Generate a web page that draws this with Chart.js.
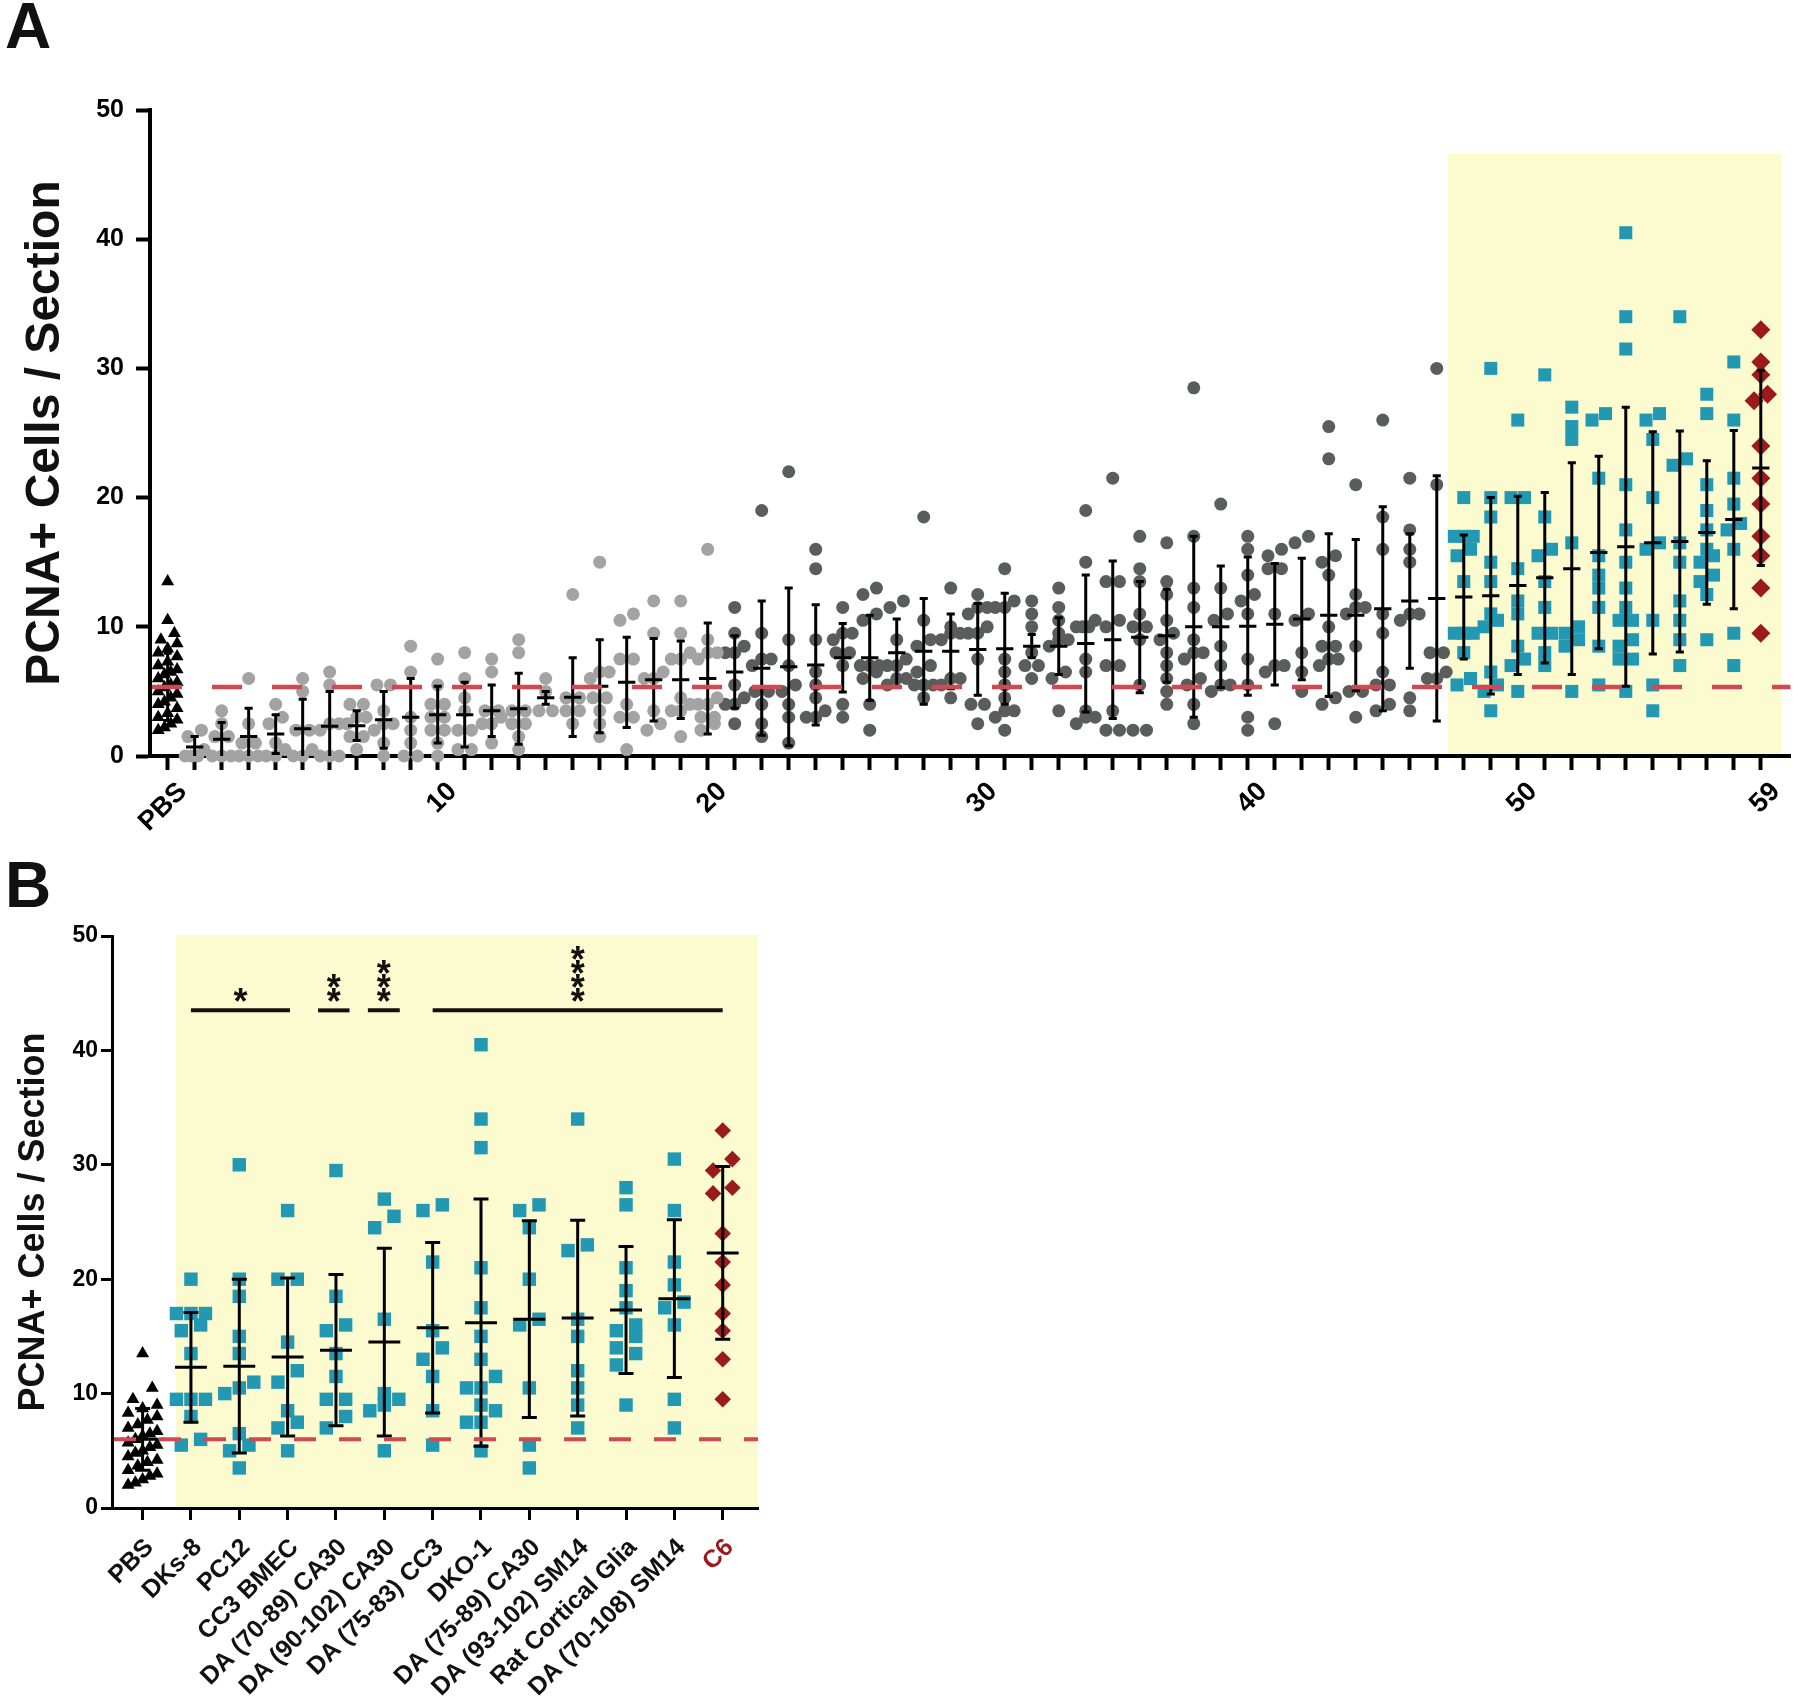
<!DOCTYPE html>
<html>
<head>
<meta charset="utf-8">
<script src="https://cdn.jsdelivr.net/npm/chart.js@4.4.1/dist/chart.umd.min.js"></script>
<style>
  html, body { margin: 0; padding: 0; background: #fff; }
  body { width: 1800px; height: 1704px; position: relative; overflow: hidden; font-family: "Liberation Sans", Arial, sans-serif; }
  .panel-letter { position: absolute; font-weight: bold; font-size: 64px; line-height: 1; color: #111; }
  #wrapA { position: absolute; left: 0; top: 0; width: 1800px; height: 850px; }
  #wrapB { position: absolute; left: 0; top: 850px; width: 800px; height: 854px; }
</style>
</head>
<body>
<div id="wrapA"><canvas id="chartA" width="1800" height="850"></canvas></div>
<div id="wrapB"><canvas id="chartB" width="800" height="854"></canvas></div>
<div class="panel-letter" style="left:5px; top:-6px;">A</div>
<div class="panel-letter" style="left:5px; top:853px;">B</div>
<script>
// values
const pbsValues = [13.5, 10.5, 9.5, 9, 8.7, 8.3, 8, 7.7, 7.3, 7, 6.7, 6.5, 6.3, 6, 5.7, 5.5, 5.3, 5, 4.8, 4.5, 4.2, 4, 3.7, 3.3, 3, 2.8, 2.5, 2.2, 2];

// panel A, groups 1-20 (light grey)
const lowGroups = [
  [2, 1.5, 0.5, 0, 0, 0],
  [3.5, 2.5, 1.5, 1.5, 0, 0, 0],
  [6, 2.5, 1, 1, 0, 0, 0],
  [4, 3, 2.5, 1, 0.5, 0, 0],
  [6, 5, 2, 2, 0.5, 0, 0],
  [6.5, 5.5, 2.5, 2.5, 2, 0, 0, 0],
  [4, 4, 3, 3, 2.5, 1.5, 1.5, 0.5],
  [5.5, 5.5, 3.5, 2.5, 2.5, 2, 1, 0],
  [8.5, 6.5, 3, 2, 1, 0, 0],
  [7.5, 5.5, 4, 4, 3, 3, 2, 2, 1, 0],
  [8, 6, 4.5, 3.5, 2, 2, 0.5, 0.5],
  [7.5, 6.5, 3.5, 3.5, 3, 2.5, 2.5, 1],
  [9, 8, 3.5, 3.5, 2.5, 2.5, 1.5, 0.5],
  [6, 5, 3.5, 3.5],
  [12.5, 4.5, 4.5, 3.5, 3.5, 2.5],
  [15, 6.5, 6.5, 6, 4.5, 4.5, 3.5, 2.5, 1.5],
  [11, 10.5, 7.5, 7.5, 4, 3, 3, 0.5],
  [12, 9.5, 6.5, 6, 6, 3.5, 2.5, 2],
  [12, 9.5, 8, 7.5, 7.5, 4.5, 4, 3.5, 3.5, 1.5],
  [16, 9, 8, 8, 7.5, 4.5, 4, 4, 3, 3, 2.5, 2]
];

// panel A, groups 21-47 (dark grey)
const midGroups = [
  [11.5, 9.5, 8.5, 8, 8, 5.5, 4.5, 4, 4, 2.5],
  [19, 9.5, 7.5, 7.5, 7, 5, 5, 4, 2.5, 1.5],
  [22, 9, 7, 5.5, 5, 4, 3, 1],
  [16, 14.5, 9, 6.5, 5.5, 4.5, 3.5, 3, 3],
  [11.5, 9.5, 9.5, 9, 8, 8, 7, 4, 3],
  [13, 12.5, 11, 10.5, 7, 7, 7, 6.5, 6, 4, 2],
  [12, 11.5, 9, 7.5, 7, 7, 6, 6, 5.5],
  [18.5, 10.5, 9, 8.5, 7, 6.5, 5.5, 5.5, 5.5, 4.5],
  [13, 10, 9.5, 9.5, 9, 6, 6, 5.5, 4.5],
  [12.5, 11.5, 11.5, 11, 10, 9.5, 9.5, 7.5, 4, 4, 2.5],
  [14.5, 12, 11.5, 11.5, 7.5, 6.5, 5.5, 4.5, 3.5, 3.5, 3, 2],
  [12, 11, 10, 8, 7, 7, 6],
  [13, 11.5, 10.5, 9.5, 9, 9, 8.5, 6.5, 6, 3.5],
  [19, 15, 10.5, 10, 10, 10, 7.5, 6.5, 3.5, 3, 3, 2.5],
  [21.5, 13.5, 13.5, 10.5, 10, 7, 7, 3.5, 2, 2],
  [17, 14.5, 13.5, 11, 10, 10, 9, 5.5, 2, 2],
  [16.5, 13.5, 12.5, 10.5, 9.5, 9, 8, 7, 6, 5, 4],
  [28.5, 17, 13, 11.5, 9, 8, 8, 7.5, 6, 5.5, 4, 2.5],
  [19.5, 13, 11, 10.5, 8.5, 7, 5.5, 5.5, 5],
  [17, 16, 14, 12.5, 12, 11, 7.5, 5.5, 3, 2],
  [16, 15.5, 14.5, 14.5, 11, 7, 7, 6.5, 2.5],
  [17, 16.5, 11, 10.5, 8, 6.5, 5],
  [25.5, 23, 15.5, 15, 14, 10, 8.5, 8.5, 7.5, 7.5, 7, 4.5, 4],
  [21, 12.5, 11.5, 11.5, 11, 8.5, 5, 5, 3],
  [26, 18.5, 16, 11, 9.5, 6.5, 5.5, 5.5, 4, 3.5],
  [21.5, 17.5, 16, 15, 11, 11, 10.5, 4.5, 3.5],
  [30, 21, 8, 8, 6.5, 6, 6]
];

// cell lines shown in both panels (A groups 48-58, B teal groups)
const testLabels = ['DKs-8', 'PC12', 'CC3 BMEC', 'DA (70-89) CA30', 'DA (90-102) CA30', 'DA (75-83) CC3',
  'DKO-1', 'DA (75-89) CA30', 'DA (93-102) SM14', 'Rat Cortical Glia', 'DA (70-108) SM14'];
const testGroups = [
  [20, 17, 17, 17, 16, 15.5, 13.5, 9.5, 9.5, 9.5, 8, 6, 5.5],
  [30, 20, 18.5, 15, 13.5, 11, 10.5, 10, 6.5, 5.5, 5, 3.5],
  [26, 20, 20, 14.5, 12, 11, 8.5, 7.5, 7, 5],
  [29.5, 18.5, 16, 15.5, 13.5, 11.5, 9.5, 9.5, 8, 7],
  [27, 25.5, 24.5, 16.5, 10, 9.5, 9, 8.5, 5],
  [26.5, 26, 21.5, 15.5, 14, 13, 11.5, 8.5, 5.5],
  [40.5, 34, 31.5, 21, 17.5, 15, 13, 11.5, 10.5, 10.5, 9, 8.5, 7.5, 7.5, 5],
  [26.5, 26, 24.5, 20, 16.5, 16, 10.5, 5.5, 3.5],
  [34, 23, 22.5, 16.5, 15, 12, 10.5, 9, 7],
  [28, 26.5, 21, 19, 17.5, 16, 15.5, 15, 14, 13.5, 12.5, 9],
  [30.5, 26, 21.5, 19.5, 18, 17.5, 16, 9.5, 7]
];
const c6Values = [33, 30.5, 29.5, 28, 27.5, 24, 21.5, 19.5, 17, 15.5, 13, 9.5];

// mean and SD bars, PBS + groups 1-47 of panel A
const meansLow = [5.35, 0.7, 1.3, 1.5, 1.7, 2.1, 2.3, 2.35, 2.8, 3.0, 3.2, 3.2, 3.5, 3.65, 4.5, 4.55,
  5.4, 5.7, 5.9, 5.9, 6.0, 6.5, 6.8, 6.9, 7.05, 7.6, 7.6, 8.0, 8.1, 8.1, 8.25, 8.3, 8.5, 8.5, 8.7,
  9.0, 9.2, 9.3, 10.0, 10.0, 10.05, 10.2, 10.6, 10.9, 10.9, 11.4, 12.0, 12.2];
const sdsLow = [2.6, 0.8, 1.3, 2.2, 1.5, 2.3, 2.7, 1.15, 2.2, 3.0, 2.2, 2.5, 2.0, 2.75, 0.5, 3.05,
  3.6, 3.5, 3.2, 3.0, 4.3, 2.8, 5.2, 6.1, 4.65, 2.65, 3.3, 2.6, 4.1, 2.9, 3.55, 4.3, 0.9, 2.2, 5.3,
  6.1, 4.3, 3.6, 7.0, 4.7, 5.35, 4.7, 4.7, 6.3, 5.85, 7.9, 5.2, 9.5];
// mean and SD bars, test groups + C6
const meansTest = [12.3, 12.4, 13.2, 13.8, 14.5, 15.75, 16.2, 16.5, 16.6, 17.3, 18.3, 22.3];
const sdsTest = [4.8, 7.6, 6.9, 6.6, 8.2, 7.45, 10.8, 8.6, 8.55, 5.55, 6.9, 7.55];
const pbsMeanB = 6.0;
const pbsSdB = 2.7;

const baselineA = 5.35;
const baselineB = 6.0;

const xTickValuesA = [0, 10, 20, 30, 40, 50, 59];
const xTickTextA = ['PBS', '10', '20', '30', '40', '50', '59'];
const labelsB = ['PBS'].concat(testLabels, ['C6']);

const sigFrom = [1, 3.63, 4.66, 6];
const sigTo = [3.05, 4.28, 5.32, 12];
const sigStars = ['*', '**', '***', '****'];
const sigLevel = 43.5;

const LIGHT = '#a3a3a3';
const DARK = '#5b5d5c';
const TEAL = '#2398b2';
const RED = '#9b1a1e';
const YELLOW = '#fbfbcf';
const DASH_RED = 'rgb(207,72,82)';
const FONT = '"Liberation Sans", Arial, sans-serif';

// spread points of a group sideways where they would overlap (like a dot plot)
function swarm(values, center, step, maxSpread, rowGap) {
  const sorted = values.slice().sort((a, b) => a - b);
  const rows = [];
  sorted.forEach(v => {
    const row = rows[rows.length - 1];
    if (row && v - row[0] < rowGap) row.push(v);
    else rows.push([v]);
  });
  const pts = [];
  rows.forEach(row => {
    const n = row.length;
    const s = n > 1 ? Math.min(step, 2 * maxSpread / (n - 1)) : 0;
    row.forEach((v, j) => pts.push({ x: center + (j - (n - 1) / 2) * s, y: v }));
  });
  return pts;
}

function groupsToPoints(groups, firstIndex, step, maxSpread, rowGap) {
  let pts = [];
  groups.forEach((g, k) => { pts = pts.concat(swarm(g, firstIndex + k, step, maxSpread, rowGap)); });
  return pts;
}

const shadePlugin = {
  id: 'shade',
  beforeDraw(chart, args, opts) {
    const { ctx, scales: { x, y } } = chart;
    const x0 = x.getPixelForValue(opts.fromX);
    const x1 = x.getPixelForValue(opts.toX);
    const y0 = y.getPixelForValue(opts.toY);
    const y1 = y.getPixelForValue(0);
    ctx.save();
    ctx.fillStyle = YELLOW;
    ctx.fillRect(x0, y0, x1 - x0, y1 - y0);
    ctx.restore();
  }
};

const errorBarsPlugin = {
  id: 'errorBars',
  afterDatasetsDraw(chart, args, opts) {
    const { ctx, scales: { x, y } } = chart;
    ctx.save();
    ctx.strokeStyle = '#000';
    ctx.lineWidth = opts.lineWidth;
    opts.means.forEach((m, i) => {
      const sd = opts.sds[i];
      const cx = x.getPixelForValue(i);
      const yMean = y.getPixelForValue(m);
      const yTop = y.getPixelForValue(m + sd);
      const yBot = y.getPixelForValue(Math.max(m - sd, 0));
      const mh = x.getPixelForValue(i + opts.meanHalf) - cx;
      const ch = x.getPixelForValue(i + opts.capHalf) - cx;
      ctx.beginPath();
      ctx.moveTo(cx, yTop); ctx.lineTo(cx, yBot);
      ctx.moveTo(cx - mh, yMean); ctx.lineTo(cx + mh, yMean);
      ctx.moveTo(cx - ch, yTop); ctx.lineTo(cx + ch, yTop);
      if (m - sd > 0) { ctx.moveTo(cx - ch, yBot); ctx.lineTo(cx + ch, yBot); }
      ctx.stroke();
    });
    ctx.restore();
  }
};

const refLinePlugin = {
  id: 'refLine',
  afterDatasetsDraw(chart, args, opts) {
    const { ctx, chartArea, scales: { y } } = chart;
    const yy = y.getPixelForValue(opts.value);
    ctx.save();
    ctx.strokeStyle = DASH_RED;
    ctx.lineWidth = opts.width;
    ctx.setLineDash(opts.dash);
    ctx.beginPath();
    ctx.moveTo(chartArea.left + 2, yy);
    ctx.lineTo(chartArea.right, yy);
    ctx.stroke();
    ctx.restore();
  }
};

const sigPlugin = {
  id: 'sig',
  afterDraw(chart) {
    const { ctx, scales: { x, y } } = chart;
    const yy = y.getPixelForValue(sigLevel);
    ctx.save();
    ctx.strokeStyle = '#111';
    ctx.fillStyle = '#111';
    ctx.lineWidth = 4;
    ctx.font = 'bold 36px ' + FONT;
    ctx.textAlign = 'center';
    ctx.textBaseline = 'alphabetic';
    sigFrom.forEach((from, i) => {
      ctx.beginPath();
      ctx.moveTo(x.getPixelForValue(from), yy);
      ctx.lineTo(x.getPixelForValue(sigTo[i]), yy);
      ctx.stroke();
      const cx = x.getPixelForValue((from + sigTo[i]) / 2);
      const base = y.getPixelForValue(45) + 21;
      for (let k = 0; k < sigStars[i].length; k++) {
        ctx.fillText('*', cx, base - k * 14);
      }
    });
    ctx.restore();
  }
};

function pointSet(data, style, radius, color) {
  return { data: data, pointStyle: style, pointRadius: radius, pointHoverRadius: radius,
    backgroundColor: color, borderWidth: 0, clip: false };
}

function axisLine(width) {
  return { display: true, width: width, color: '#000' };
}

// ---- panel A ----
const stepA = 0.5, spreadA = 0.35, gapA = 0.9;
new Chart(document.getElementById('chartA'), {
  type: 'scatter',
  data: {
    datasets: [
      pointSet(swarm(pbsValues, 0, stepA, spreadA, gapA), 'triangle', 7.5, '#000'),
      pointSet(groupsToPoints(lowGroups, 1, stepA, spreadA, gapA), 'circle', 6.5, LIGHT),
      pointSet(groupsToPoints(midGroups, 21, stepA, spreadA, gapA), 'circle', 6.5, DARK),
      pointSet(groupsToPoints(testGroups, 48, stepA, spreadA, gapA), 'rect', 9.2, TEAL),
      pointSet(swarm(c6Values, 59, stepA, spreadA, gapA), 'rectRot', 9.5, RED)
    ]
  },
  options: {
    responsive: false,
    animation: false,
    events: [],
    layout: { padding: { left: 0, top: 110, right: 5, bottom: 0 } },
    plugins: {
      legend: { display: false },
      tooltip: { enabled: false },
      shade: { fromX: 47.4, toX: 59.77, toY: 46.6 },
      errorBars: { means: meansLow.concat(meansTest), sds: sdsLow.concat(sdsTest), meanHalf: 0.32, capHalf: 0.15, lineWidth: 3 },
      refLine: { value: baselineA, width: 4.5, dash: [30, 30] }
    },
    scales: {
      x: {
        type: 'linear', min: -0.654, max: 60.1,
        afterBuildTicks: s => { s.ticks = Array.from({ length: 60 }, (_, i) => ({ value: i })); },
        afterFit: s => { s.height = 94; },
        border: axisLine(4),
        grid: { drawOnChartArea: false, drawTicks: true, tickLength: 14, tickWidth: 4, tickColor: '#000' },
        ticks: {
          autoSkip: false, minRotation: 45, maxRotation: 45, padding: 6, labelOffset: 15, color: '#000',
          font: { family: FONT, size: 27, weight: 'bold' },
          callback: v => { const k = xTickValuesA.indexOf(v); return k >= 0 ? xTickTextA[k] : ''; }
        }
      },
      y: {
        min: 0, max: 50,
        afterFit: s => { s.width = 150; },
        border: axisLine(4),
        grid: { drawOnChartArea: false, drawTicks: true, tickLength: 14, tickWidth: 4, tickColor: '#000' },
        ticks: { stepSize: 10, padding: 12, color: '#000', font: { family: FONT, size: 25, weight: 'bold' } },
        title: { display: true, text: 'PCNA+ Cells / Section', color: '#111', padding: { top: 17, bottom: 0 },
          font: { family: FONT, size: 48, weight: 'bold' } }
      }
    }
  },
  plugins: [shadePlugin, errorBarsPlugin, refLinePlugin]
});

// ---- panel B ----
const stepB = 0.4, spreadB = 0.3, gapB = 1.1;
new Chart(document.getElementById('chartB'), {
  type: 'scatter',
  data: {
    datasets: [
      pointSet(swarm(pbsValues, 0, stepB, spreadB, gapB), 'triangle', 7.5, '#000'),
      pointSet(groupsToPoints(testGroups, 1, stepB, spreadB, gapB), 'rect', 9.5, TEAL),
      pointSet(swarm(c6Values, 12, stepB, spreadB, gapB), 'rectRot', 8.3, RED)
    ]
  },
  options: {
    responsive: false,
    animation: false,
    events: [],
    layout: { padding: { left: 0, top: 86, right: 42, bottom: 0 } },
    plugins: {
      legend: { display: false },
      tooltip: { enabled: false },
      shade: { fromX: 0.69, toX: 12.73, toY: 50.1 },
      errorBars: { means: [pbsMeanB].concat(meansTest), sds: [pbsSdB].concat(sdsTest), meanHalf: 0.33, capHalf: 0.155, lineWidth: 3 },
      refLine: { value: baselineB, width: 4, dash: [22, 23] }
    },
    scales: {
      x: {
        type: 'linear', min: -0.633, max: 12.73,
        afterBuildTicks: s => { s.ticks = labelsB.map((_, i) => ({ value: i })); },
        afterFit: s => { s.height = 196; },
        border: axisLine(3),
        grid: { drawOnChartArea: false, drawTicks: true, tickLength: 12, tickWidth: 3, tickColor: '#000' },
        ticks: {
          autoSkip: false, minRotation: 45, maxRotation: 45, padding: 13, labelOffset: 7,
          color: c => (c.index === labelsB.length - 1 ? RED : '#111'),
          font: { family: FONT, size: 25, weight: 'bold' },
          callback: v => labelsB[v] || ''
        }
      },
      y: {
        min: 0, max: 50,
        afterFit: s => { s.width = 112; },
        border: axisLine(3),
        grid: { drawOnChartArea: false, drawTicks: true, tickLength: 11, tickWidth: 3, tickColor: '#000' },
        ticks: { stepSize: 10, padding: 3, color: '#000', font: { family: FONT, size: 23, weight: 'bold' } },
        title: { display: true, text: 'PCNA+ Cells / Section', color: '#111', padding: { top: 12, bottom: 0 },
          font: { family: FONT, size: 36, weight: 'bold' } }
      }
    }
  },
  plugins: [shadePlugin, errorBarsPlugin, refLinePlugin, sigPlugin]
});
</script>
</body>
</html>
